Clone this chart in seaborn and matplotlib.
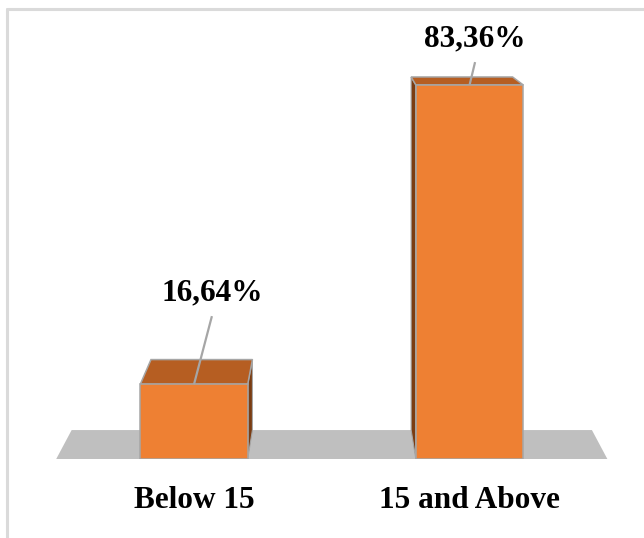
import matplotlib
matplotlib.use("Agg")
import matplotlib.pyplot as plt
from matplotlib.patches import Polygon
from matplotlib.lines import Line2D
import pandas as pd
import seaborn as sns

# --- data ---------------------------------------------------------------
categories = ["Below 15", "15 and Above"]
shares = [16.64, 83.36]
value_labels = ["16,64%", "83,36%"]

# --- style --------------------------------------------------------------
FRONT = "#EE8033"
TOP = "#B65E22"
SIDE = "#7A3C12"
EDGE = "#A6A6A6"
FLOOR = "#BFBFBF"
FRAME = "#DADADA"
FONT_SIZE = 22.5
BAR_WIDTH = 0.39
DEPTH = 0.056            # how far the back faces recede toward the vanishing point
VANISH = (0.5, 115.2)    # vanishing point in data units
# label placement relative to the top-front centre of each bar (x in categories, y in %)
label_offsets = [(0.065, 18.6), (0.02, 8.5)]
leader_gap = 3.4         # gap between label baseline and the start of its leader line

sns.set_theme(style="white")
plt.rcParams["font.family"] = ["Liberation Serif", "DejaVu Serif"]

fig = plt.figure(figsize=(6.44, 5.38), dpi=100)
ax = fig.add_axes([0.0, 79 / 538, 1.0, 459 / 538])

df = pd.DataFrame({"group": categories, "share": shares})
sns.barplot(data=df, x="group", y="share", color=FRONT, saturation=1,
            width=BAR_WIDTH, edgecolor=EDGE, linewidth=1.1, ax=ax)

ax.set_xlim(-0.704, 1.633)
ax.set_ylim(0, 102.3)


def recede(x, y):
    """Project a front-plane point onto the back plane of the 3-D box."""
    return (x + (VANISH[0] - x) * DEPTH, y + (VANISH[1] - y) * DEPTH)


# floor slab spanning the category band
fx0, fx1 = -0.5, len(categories) - 0.5
floor = Polygon([(fx0, 0), (fx1, 0), recede(fx1, 0), recede(fx0, 0)],
                closed=True, facecolor=FLOOR, edgecolor="none", zorder=1)
ax.add_patch(floor)

for i, bar in enumerate(ax.patches[:len(categories)]):
    bar.set_zorder(4)
    x0 = bar.get_x()
    x1 = x0 + bar.get_width()
    h = bar.get_height()

    # side face that is turned toward the viewer
    sx = x1 if x1 < VANISH[0] else x0
    side = Polygon([(sx, 0), (sx, h), recede(sx, h), recede(sx, 0)], closed=True,
                   facecolor=SIDE, edgecolor=EDGE, linewidth=0.8, zorder=2)
    ax.add_patch(side)

    # top face
    top = Polygon([(x0, h), (x1, h), recede(x1, h), recede(x0, h)], closed=True,
                  facecolor=TOP, edgecolor=EDGE, linewidth=1.1, zorder=3)
    ax.add_patch(top)

    # value label with leader line
    cx = x0 + bar.get_width() / 2
    dx, dy = label_offsets[i]
    lx, ly = cx + dx, h + dy
    ax.text(lx, ly, value_labels[i], ha="center", va="baseline",
            fontsize=FONT_SIZE, fontweight="bold", color="black", zorder=6)
    ax.plot([lx, cx], [ly - leader_gap, h], color=EDGE, linewidth=1.6,
            solid_capstyle="butt", zorder=5)

# axis cosmetics
ax.set_xlabel("")
ax.set_ylabel("")
ax.set_yticks([])
ax.tick_params(axis="x", length=0, pad=19.5, labelsize=FONT_SIZE)
for lab in ax.get_xticklabels():
    lab.set_fontweight("bold")
    lab.set_color("black")
for s in ax.spines.values():
    s.set_visible(False)
ax.patch.set_alpha(0)

# chart-area frame (left and top edges)
fig.add_artist(Line2D([7 / 644, 7 / 644], [0, 1 - 9 / 538], transform=fig.transFigure,
                      color=FRAME, linewidth=2.2))
fig.add_artist(Line2D([7 / 644, 1], [1 - 9 / 538, 1 - 9 / 538], transform=fig.transFigure,
                      color=FRAME, linewidth=2.2))

fig.savefig("out.png", dpi=100, facecolor="white")
